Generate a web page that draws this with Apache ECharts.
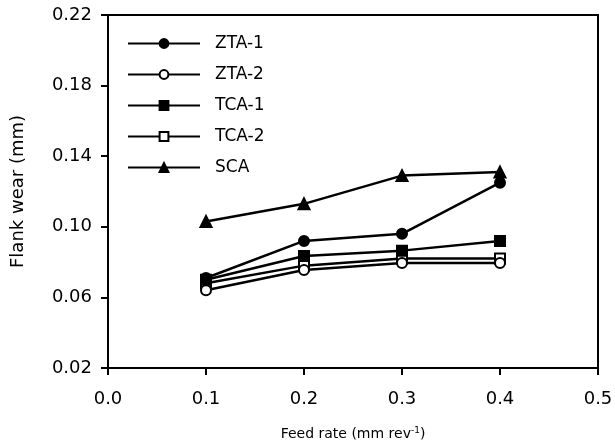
<!DOCTYPE html>
<html><head><meta charset="utf-8">
<script src="https://cdn.jsdelivr.net/npm/echarts@6/dist/echarts.min.js"></script>
<style>html,body{margin:0;padding:0;background:#fff}#c{width:615px;height:446px}</style>
</head><body><div id="c"></div>
<script>
const feed = [0.1, 0.2, 0.3, 0.4];
const seriesNames = ['ZTA-1', 'ZTA-2', 'TCA-1', 'TCA-2', 'SCA'];
const zta1 = [0.071, 0.092, 0.096, 0.125];
const zta2 = [0.064, 0.0755, 0.0795, 0.0795];
const tca1 = [0.070, 0.0835, 0.0865, 0.092];
const tca2 = [0.068, 0.078, 0.082, 0.082];
const sca = [0.103, 0.113, 0.129, 0.131];
const yTicks = [0.02, 0.06, 0.10, 0.14, 0.18, 0.22];
const xTicks = [0.0, 0.1, 0.2, 0.3, 0.4, 0.5];

const values = [zta1, zta2, tca1, tca2, sca];
const symbols = ['circle', 'emptyCircle', 'rect', 'emptyRect', 'triangle'];
const font = 'DejaVu Sans, Arial, sans-serif';

const chart = echarts.init(document.getElementById('c'), null, {renderer: 'canvas'});
chart.setOption({
  animation: false,
  backgroundColor: '#fff',
  grid: {left: 108, right: 17, top: 15, bottom: 78, containLabel: false, outerBoundsMode: 'none', show: true, borderColor: '#000', borderWidth: 2},
  legend: {
    orient: 'vertical', left: 127, top: 35, padding: 0, itemWidth: 72, itemHeight: 11, itemGap: 14,
    textStyle: {fontFamily: font, fontSize: 17, color: '#000', padding: [0, 0, 0, 10]},
    data: seriesNames
  },
  xAxis: {
    type: 'value', min: 0, max: 0.5, interval: 0.1,
    name: '{a|Feed rate (mm rev}{s|-1}{a|)}', nameLocation: 'middle', nameGap: 58,
    nameTextStyle: {rich: {a: {fontFamily: font, fontSize: 14, color: '#000'}, s: {fontFamily: font, fontSize: 9, color: '#000', verticalAlign: 'top', padding: [0, 0, 8, 0]}}},
    axisLine: {lineStyle: {color: '#000', width: 2}},
    axisTick: {inside: false, length: 7, lineStyle: {color: '#000', width: 2}},
    axisLabel: {fontFamily: font, fontSize: 18, color: '#000', margin: 22, formatter: v => v.toFixed(1)},
    splitLine: {show: false}
  },
  yAxis: {
    type: 'value', min: 0.02, max: 0.22, interval: 0.04,
    name: 'Flank wear (mm)', nameLocation: 'middle', nameGap: 81,
    nameTextStyle: {fontFamily: font, fontSize: 18, color: '#000'},
    axisLine: {lineStyle: {color: '#000', width: 2}},
    axisTick: {inside: false, length: 7, lineStyle: {color: '#000', width: 2}},
    axisLabel: {fontFamily: font, fontSize: 18, color: '#000', margin: 16, formatter: v => v.toFixed(2)},
    splitLine: {show: false}
  },
  series: seriesNames.map((n, i) => ({
    name: n, type: 'line', symbol: symbols[i], symbolSize: i === 4 ? 11 : 10,
    data: feed.map((f, j) => [f, values[i][j]]),
    lineStyle: {color: '#000', width: 2.5},
    itemStyle: {color: '#000', borderColor: '#000', borderWidth: 2},
    z: 5 - i
  }))
});
</script></body></html>
